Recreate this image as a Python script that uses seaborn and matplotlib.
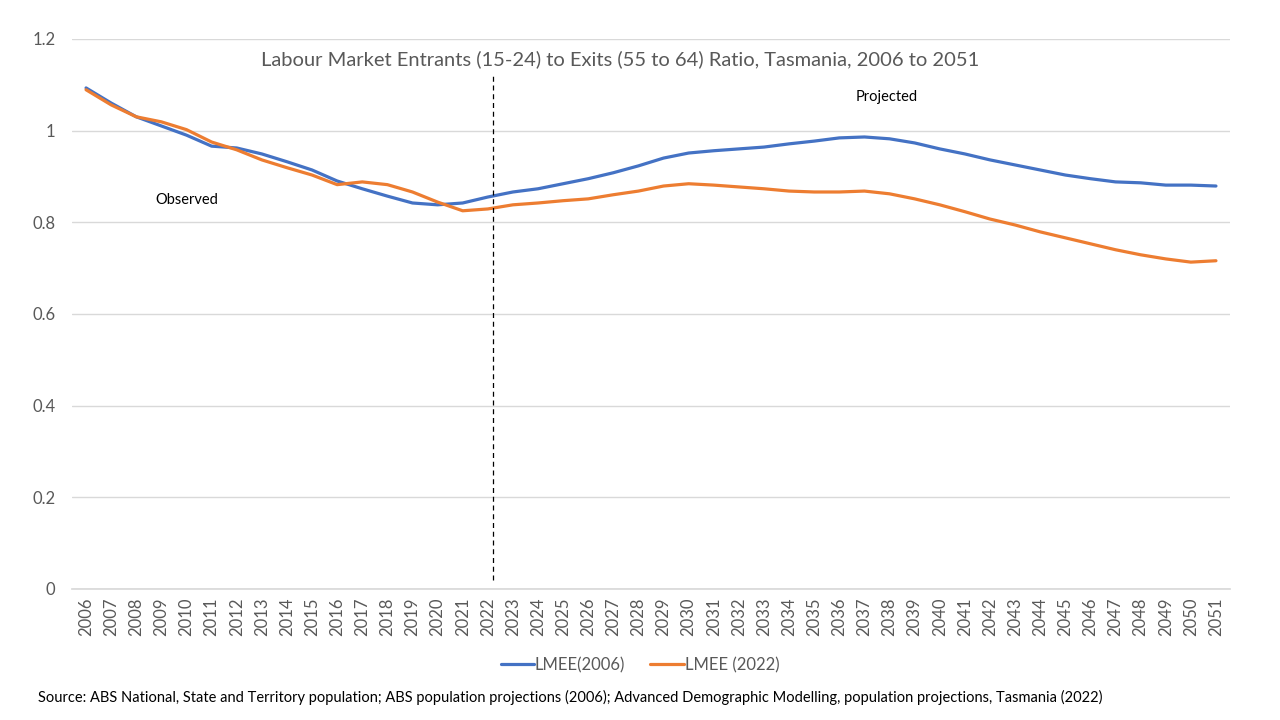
import matplotlib
matplotlib.use("Agg")
import matplotlib.pyplot as plt
import seaborn as sns
import pandas as pd

years = list(range(2006, 2052))
lmee_2006 = [1.093, 1.060, 1.030, 1.010, 0.990, 0.966, 0.962, 0.949, 0.932, 0.914,
             0.890, 0.873, 0.857, 0.842, 0.838, 0.842, 0.855, 0.866, 0.873, 0.884,
             0.895, 0.908, 0.923, 0.940, 0.951, 0.956, 0.960, 0.964, 0.971, 0.977,
             0.984, 0.986, 0.982, 0.973, 0.960, 0.949, 0.936, 0.925, 0.914, 0.903,
             0.895, 0.888, 0.886, 0.881, 0.881, 0.879]
lmee_2022 = [1.089, 1.056, 1.030, 1.019, 1.002, 0.975, 0.958, 0.936, 0.919, 0.903,
             0.882, 0.888, 0.882, 0.866, 0.844, 0.825, 0.829, 0.838, 0.842, 0.847,
             0.851, 0.860, 0.868, 0.879, 0.884, 0.881, 0.877, 0.873, 0.868, 0.866,
             0.866, 0.868, 0.862, 0.851, 0.838, 0.823, 0.807, 0.794, 0.779, 0.766,
             0.753, 0.740, 0.729, 0.720, 0.713, 0.716]
series_names = ["LMEE(2006)", "LMEE (2022)"]
y_ticks = [0, 0.2, 0.4, 0.6, 0.8, 1.0, 1.2]
y_tick_labels = ["0", "0.2", "0.4", "0.6", "0.8", "1", "1.2"]

title = "Labour Market Entrants (15-24) to Exits (55 to 64) Ratio, Tasmania, 2006 to 2051"
source = ("Source: ABS National, State and Territory population; ABS population projections (2006); "
          "Advanced Demographic Modelling, population projections, Tasmania (2022)")

df = pd.DataFrame({"Year": years * 2,
                   "Ratio": lmee_2006 + lmee_2022,
                   "Series": [series_names[0]] * len(years) + [series_names[1]] * len(years)})

sns.set_theme(style="white")
plt.rcParams['font.family'] = ['Lato', 'DejaVu Sans']

fig = plt.figure(figsize=(12.8, 7.2), dpi=100)
ax = fig.add_axes([0.05625, 0.182, 0.9047, 0.764])

palette = {series_names[0]: "#4472C4", series_names[1]: "#ED7D31"}
sns.lineplot(data=df, x="Year", y="Ratio", hue="Series", palette=palette,
             linewidth=2.3, ax=ax, legend=True)

ax.set_xlim(2005.44, 2051.56)
ax.set_ylim(0, 1.2)
ax.set_yticks(y_ticks)
ax.set_yticklabels(y_tick_labels)
ax.set_xticks(years)
ax.set_xticklabels([str(y) for y in years], rotation=90)
ax.tick_params(axis='both', colors="#595959", labelsize=12, length=0)
ax.tick_params(axis='y', pad=12)
ax.tick_params(axis='x', pad=6)
ax.grid(axis='y', color="#D9D9D9", linewidth=1)
ax.set_axisbelow(True)
for s in ["top", "right", "left"]:
    ax.spines[s].set_visible(False)
ax.spines["bottom"].set_color("#D9D9D9")
ax.set_xlabel("")
ax.set_ylabel("")

ax.axvline(2022.2, ymin=0.016, ymax=0.935, color="black", linestyle=(0, (4, 3)), linewidth=0.9)

ax.text(0.473, 0.963, title, transform=ax.transAxes, ha="center", va="center",
        fontsize=14.5, color="#595959")
ax.text(2010.0, 0.849, "Observed", ha="center", va="center", fontsize=10.5, color="black")
ax.text(2037.9, 1.073, "Projected", ha="center", va="center", fontsize=10.5, color="black")

leg = ax.legend(loc="center", bbox_to_anchor=(0.5, 1 - 665 / 720), bbox_transform=fig.transFigure,
                ncol=2, frameon=False, fontsize=12, handlelength=2.0, columnspacing=1.5,
                handletextpad=0.05)
for t in leg.get_texts():
    t.set_color("#595959")

fig.text(38 / 1280, 1 - 697 / 720, source, ha="left", va="center", fontsize=10.5, color="black")

fig.savefig("out.png", dpi=100, facecolor="white")
